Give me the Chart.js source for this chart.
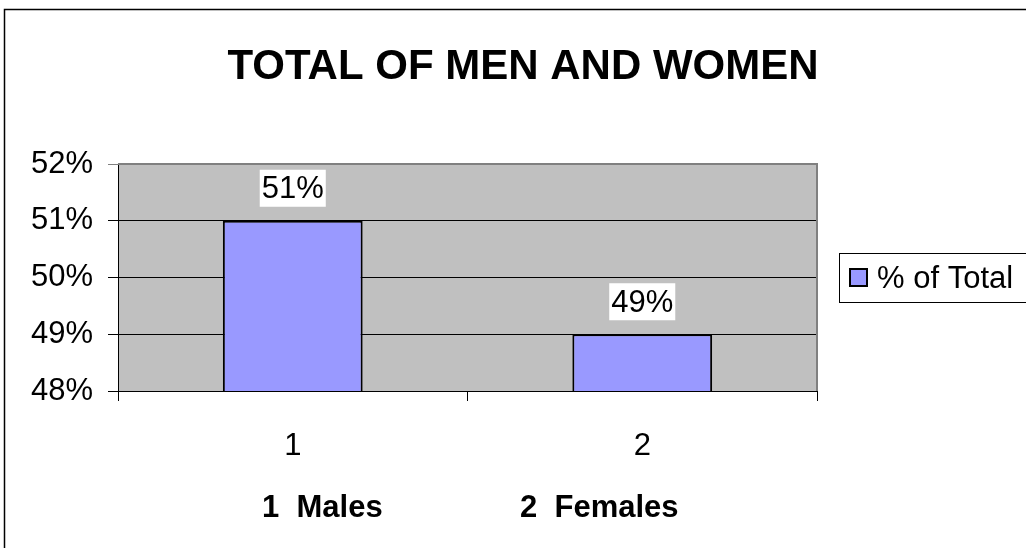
<!DOCTYPE html>
<html>
<head>
<meta charset="utf-8">
<script src="https://cdn.jsdelivr.net/npm/chart.js@4.4.1/dist/chart.umd.min.js"></script>
<style>
    body { margin: 0; background: #ffffff; overflow: hidden; }
    #wrap { width: 1026px; height: 548px; }
</style>
</head>
<body>
<div id="wrap"><canvas id="grafico" width="1026" height="548"></canvas></div>
<script>
const categorias = ['1', '2'];
const legendas = ['1  Males', '2  Females'];
const valores = [0.51, 0.49];
const rotulos = ['51%', '49%'];
const serie = '% of Total';
const titulo = 'TOTAL OF MEN AND WOMEN';
const escalaY = [0.48, 0.52, 0.01];

const fonte = '"Liberation Sans", Arial, sans-serif';

// fundo cinza da area do grafico + moldura
const fundo = {
    id: 'fundo',
    beforeDraw(chart) {
        const ctx = chart.ctx, a = chart.chartArea;
        ctx.save();
        ctx.fillStyle = '#c0c0c0';
        ctx.fillRect(a.left, a.top, a.right - a.left, a.bottom - a.top);
        ctx.restore();
    },
    beforeDatasetsDraw(chart) {
        const ctx = chart.ctx, a = chart.chartArea;
        ctx.save();
        ctx.strokeStyle = '#808080';
        ctx.lineWidth = 2;
        ctx.beginPath();
        ctx.moveTo(a.left, a.top);
        ctx.lineTo(a.right, a.top);
        ctx.lineTo(a.right, a.bottom);
        ctx.stroke();
        ctx.restore();
    }
};

// rotulos dos valores, titulo, legenda e textos de baixo
const textos = {
    id: 'textos',
    afterDraw(chart) {
        const ctx = chart.ctx;
        ctx.save();

        // borda externa
        ctx.strokeStyle = '#000';
        ctx.lineWidth = 1.5;
        ctx.strokeRect(4.5, 9.5, 1200, 700);

        // rotulos sobre as barras
        ctx.font = '31px ' + fonte;
        ctx.textAlign = 'center';
        ctx.textBaseline = 'middle';
        chart.getDatasetMeta(0).data.forEach(function (barra, i) {
            const w = ctx.measureText(rotulos[i]).width + 4;
            ctx.fillStyle = '#fff';
            ctx.fillRect(barra.x - w / 2, barra.y - 51, w, 37);
            ctx.fillStyle = '#000';
            ctx.fillText(rotulos[i], barra.x, barra.y - 31);
        });

        // titulo
        ctx.font = 'bold 42px ' + fonte;
        ctx.fillText(titulo, 523, 67);

        // legenda
        ctx.strokeStyle = '#000';
        ctx.lineWidth = 1;
        ctx.strokeRect(839.5, 253.5, 300, 49);
        ctx.fillStyle = '#9999ff';
        ctx.fillRect(850, 269, 17, 17);
        ctx.lineWidth = 2;
        ctx.strokeRect(850, 269, 17, 17);
        ctx.fillStyle = '#000';
        ctx.font = '31px ' + fonte;
        ctx.textAlign = 'left';
        ctx.fillText(serie, 877, 279);

        // textos embaixo
        ctx.font = 'bold 31px ' + fonte;
        ctx.fillText(legendas[0], 262, 508);
        ctx.fillText(legendas[1], 520, 508);

        ctx.restore();
    }
};

const ctx = document.getElementById('grafico').getContext('2d');
const graficoBarras = new Chart(ctx, {
    type: 'bar',
    data: {
        labels: categorias,
        datasets: [{
            label: serie,
            data: valores,
            backgroundColor: '#9999ff',
            borderColor: '#000',
            borderWidth: 2,
            borderSkipped: false,
            categoryPercentage: 1,
            barPercentage: 0.4
        }]
    },
    options: {
        responsive: false,
        animation: false,
        devicePixelRatio: 1,
        layout: { padding: { top: 164, right: 209, left: 0, bottom: 0 } },
        plugins: {
            legend: { display: false },
            title: { display: false },
            tooltip: { enabled: false }
        },
        scales: {
            x: {
                afterFit: function (s) { s.height = 157; },
                grid: {
                    offset: true,
                    drawOnChartArea: false,
                    drawTicks: true,
                    tickLength: 10,
                    color: '#000'
                },
                border: { display: true, color: '#000', width: 1 },
                ticks: {
                    color: '#000',
                    font: { size: 31, family: fonte },
                    padding: 27,
                    maxRotation: 0
                }
            },
            y: {
                min: escalaY[0],
                max: escalaY[1],
                afterFit: function (s) { s.width = 118; },
                grid: {
                    color: function (c) { return c.tick && Math.abs(c.tick.value - escalaY[1]) < 1e-9 ? '#808080' : '#000'; },
                    tickLength: 10,
                    drawTicks: true
                },
                border: { display: true, color: '#000', width: 1 },
                ticks: {
                    stepSize: escalaY[2],
                    color: '#000',
                    font: { size: 31, family: fonte },
                    padding: 15,
                    callback: function (v) { return Math.round(v * 100) + '%'; }
                }
            }
        }
    },
    plugins: [fundo, textos]
});
</script>
</body>
</html>
